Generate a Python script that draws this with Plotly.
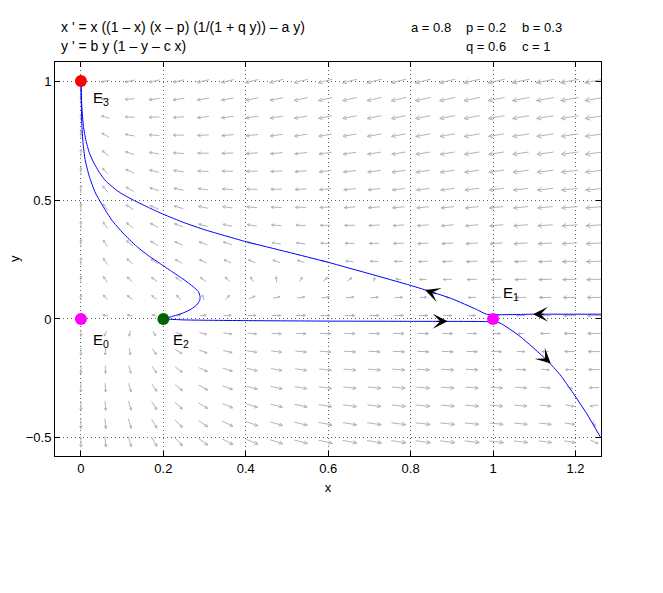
import numpy as np
import plotly.graph_objects as go

# parameters shown in the header
a, p, b, q, c = 0.8, 0.2, 0.3, 0.6, 1.0

# equilibria
eq_x = [0.0, 1.0, 0.2, 0.0]
eq_y = [0.0, 0.0, 0.0, 1.0]
eq_names = ["E<sub>0</sub>", "E<sub>1</sub>", "E<sub>2</sub>", "E<sub>3</sub>"]
eq_colors = ["#ff00ff", "#ff00ff", "#006400", "#ff0000"]

# trajectories
# separatrix coming in from the right, turning at E1 and running up to E3
sepA_x = [1.262, 1.10, 0.984, 0.96, 0.90, 0.852, 0.80, 0.70, 0.60, 0.50, 0.40, 0.30,
          0.25, 0.20, 0.167, 0.13, 0.10, 0.085, 0.06, 0.046, 0.03, 0.02, 0.012, 0.006,
          0.003, 0.001, 0.0]
sepA_y = [0.02, 0.02, 0.02, 0.04, 0.085, 0.113, 0.141, 0.19, 0.238, 0.282, 0.325, 0.375,
          0.405, 0.44, 0.466, 0.497, 0.525, 0.543, 0.58, 0.612, 0.66, 0.70, 0.75, 0.81,
          0.87, 0.93, 1.0]
# orbit leaving E2, bending round and going up to E3
orbB_x = [0.2, 0.22, 0.248, 0.268, 0.281, 0.288, 0.289, 0.285, 0.272, 0.25, 0.22, 0.19,
          0.167, 0.135, 0.102, 0.075, 0.054, 0.035, 0.02, 0.01, 0.005, 0.002, 0.001, 0.0]
orbB_y = [0.0, 0.01, 0.025, 0.042, 0.059, 0.077, 0.094, 0.115, 0.136, 0.165, 0.2, 0.235,
          0.262, 0.305, 0.361, 0.415, 0.472, 0.53, 0.6, 0.67, 0.74, 0.82, 0.9, 1.0]
# orbit from E2 to E1, then down along the lower branch
orbC_x = [0.2, 0.25, 0.4, 0.6, 0.8, 0.984, 1.0, 1.017, 1.066, 1.13, 1.163, 1.194, 1.227, 1.26]
orbC_y = [0.0, -0.004, -0.007, -0.009, -0.01, -0.011, -0.013, -0.017, -0.074, -0.172,
          -0.235, -0.311, -0.397, -0.495]

# black direction arrows on the orbits: tip and a point behind it
dir_tip_x = [0.835, 0.89, 1.097, 1.14]
dir_tip_y = [0.122, -0.010, 0.02, -0.187]
dir_tail_x = [0.865, 0.86, 1.127, 1.125]
dir_tail_y = [0.103, -0.010, 0.02, -0.163]

# field sample grid
grid_x = [round(0.0593 * k, 4) for k in range(22)]
grid_y = [round(1.0 - 0.0758 * k, 4) for k in range(21)]

X_RANGE = [-0.063, 1.262]
Y_RANGE = [-0.576, 1.08]
W, H = 663, 593
OFF = 8  # page body margin
# wanted plot box on screen: left 55, right 601, top 62, bottom 456
BOX = (55, 601, 62, 456)
ML, MT = BOX[0] - OFF, BOX[2] - OFF
MR, MB = W - BOX[1] + OFF, H - BOX[3] + OFF
sx = (BOX[1] - BOX[0]) / (X_RANGE[1] - X_RANGE[0])
sy = (BOX[3] - BOX[2]) / (Y_RANGE[1] - Y_RANGE[0])


def rhs(x, y):
    dx = x * ((1 - x) * (x - p) * (1 / (1 + q * y)) - a * y)
    dy = b * y * (1 - y - c * x)
    return dx, dy


# vector field, drawn as small gray arrows (lengths in screen pixels)
GX, GY = np.meshgrid(grid_x, grid_y)
U, V = rhs(GX, GY)
PU, PV = U * sx, V * sy
M = np.hypot(PU, PV)
mmax = M.max()
L = 19 * (M / mmax) ** 0.26
fx, fy = [], []
for i in range(GX.shape[0]):
    for j in range(GX.shape[1]):
        if M[i, j] < 1e-9:
            continue
        ux, uy = PU[i, j] / M[i, j], PV[i, j] / M[i, j]
        l = L[i, j]
        tx, ty = -ux * l / 2, -uy * l / 2
        hx, hy = ux * l / 2, uy * l / 2
        fx += [GX[i, j] + tx / sx, GX[i, j] + hx / sx, None]
        fy += [GY[i, j] + ty / sy, GY[i, j] + hy / sy, None]
        bl = max(0.3 * l, 2.5)
        for ang in (0.45, -0.45):
            ca, sa = np.cos(ang), np.sin(ang)
            bx = -(ux * ca - uy * sa) * bl
            by = -(ux * sa + uy * ca) * bl
            fx += [GX[i, j] + hx / sx, GX[i, j] + (hx + bx) / sx, None]
            fy += [GY[i, j] + hy / sy, GY[i, j] + (hy + by) / sy, None]

fig = go.Figure()
fig.add_trace(go.Scatter(x=fx, y=fy, mode="lines", line=dict(color="#b4b4b4", width=1),
                         hoverinfo="skip", showlegend=False))
for tx_, ty_ in [(sepA_x, sepA_y), (orbB_x, orbB_y), (orbC_x, orbC_y)]:
    fig.add_trace(go.Scatter(x=tx_, y=ty_, mode="lines",
                             line=dict(color="#0000ff", width=1, shape="spline", smoothing=0.5),
                             showlegend=False))
fig.add_trace(go.Scatter(x=eq_x, y=eq_y, mode="markers",
                         marker=dict(size=12, color=eq_colors), showlegend=False))

font = dict(family="Liberation Sans, Arial, sans-serif", size=13, color="black")

for i in range(len(dir_tip_x)):
    fig.add_annotation(x=dir_tip_x[i], y=dir_tip_y[i], ax=dir_tail_x[i], ay=dir_tail_y[i],
                       xref="x", yref="y", axref="x", ayref="y", text="",
                       showarrow=True, arrowhead=3, arrowsize=2.5, arrowwidth=1,
                       arrowcolor="black")

label_shift = [(10, -10), (8, 14), (8, -10), (10, -6)]
for i in range(len(eq_x)):
    fig.add_annotation(x=eq_x[i], y=eq_y[i], text=eq_names[i], showarrow=False,
                       xanchor="left", yanchor="top" if label_shift[i][1] < 0 else "bottom",
                       xshift=label_shift[i][0], yshift=label_shift[i][1],
                       font=dict(family=font["family"], size=15, color="black"))


def px(xp, yp):
    # screen pixel -> paper fraction
    return (xp - BOX[0]) / (BOX[1] - BOX[0]), (BOX[3] - yp) / (BOX[3] - BOX[2])


header = [
    ("x ' = x ((1 \u2013 x) (x \u2013 p) (1/(1 + q y)) \u2013 a y)", 60, 27, 14),
    ("y ' = b y (1 \u2013 y \u2013 c x)", 60, 46, 14),
    ("a = 0.8", 410, 27, 13),
    ("p = 0.2", 465, 27, 13),
    ("b = 0.3", 521, 27, 13),
    ("q = 0.6", 465, 46, 13),
    ("c = 1", 521, 46, 13),
]
for txt, hx_, hy_, fs in header:
    xp, yp = px(hx_, hy_)
    fig.add_annotation(x=xp, y=yp, xref="paper", yref="paper", text=txt, showarrow=False,
                       xanchor="left", yanchor="middle", borderpad=0,
                       font=dict(family=font["family"], size=fs, color="black"))

# y axis label, placed by hand
yl_x, yl_y = px(14, 259)
fig.add_annotation(x=yl_x, y=yl_y, xref="paper", yref="paper", text="y", showarrow=False,
                   textangle=-90, xanchor="center", yanchor="middle", font=font,
                   borderpad=0)

axis_common = dict(showline=True, linecolor="black", linewidth=1, mirror="allticks",
                   ticks="inside", ticklen=5, tickcolor="black", showgrid=True,
                   gridcolor="#606060", griddash="1px,3px", gridwidth=1, zeroline=False,
                   tickfont=font, automargin=False)
fig.update_xaxes(range=X_RANGE, tickvals=[0, 0.2, 0.4, 0.6, 0.8, 1, 1.2],
                 ticktext=["0", "0.2", "0.4", "0.6", "0.8", "1", "1.2"],
                 title=dict(text="x", font=font, standoff=8), **axis_common)
fig.update_yaxes(range=Y_RANGE, tickvals=[-0.5, 0, 0.5, 1],
                 ticktext=["\u22120.5", "0", "0.5", "1"], **axis_common)
fig.update_layout(width=W, height=H, margin=dict(l=ML, r=MR, t=MT, b=MB),
                  plot_bgcolor="white", paper_bgcolor="white", showlegend=False)
fig.write_html("out.html")
